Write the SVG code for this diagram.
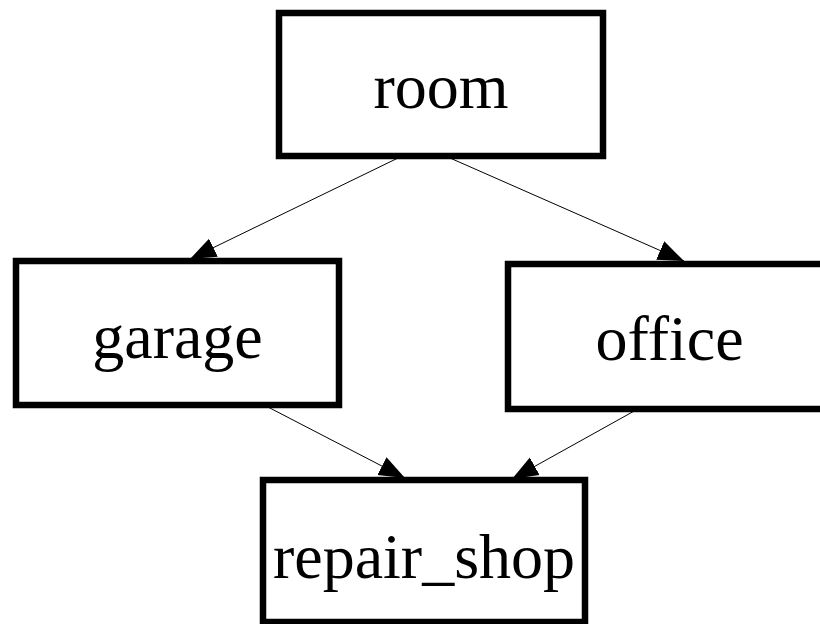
<svg xmlns="http://www.w3.org/2000/svg" width="820" height="624" viewBox="0 0 820 624">
<style>
.box{fill:#fff;stroke:#000;stroke-width:6.5}
.lbl{font-family:"Liberation Serif","Times New Roman",serif;font-size:64px;fill:#000;text-anchor:middle}
.edge{stroke:#000;stroke-width:1;fill:none;marker-end:url(#ah)}
</style>
<defs>
<marker id="ah" markerWidth="28" markerHeight="24" refX="26" refY="12" orient="auto" markerUnits="userSpaceOnUse">
<path d="M0,2 L26,12 L0,22 Z" fill="#000"/>
</marker>
</defs>
<rect width="820" height="624" fill="#fff"/>
<g id="edges">
<path class="edge" d="M398,158 L190,259"/>
<path class="edge" d="M450,158 L684,261"/>
<path class="edge" d="M266,406 L405,478"/>
<path class="edge" d="M636,410 L512,479"/>
</g>
<g id="room"><rect class="box" x="279" y="13" width="324" height="143"/><text class="lbl" x="441" y="108">room</text></g>
<g id="garage"><rect class="box" x="16" y="261" width="323" height="144"/><text class="lbl" x="177.5" y="358">garage</text></g>
<g id="office"><rect class="box" x="508" y="264" width="323" height="145"/><text class="lbl" x="669.5" y="360">office</text></g>
<g id="repair_shop"><rect class="box" x="263" y="480" width="322" height="142"/><text class="lbl" x="424" y="578">repair_shop</text></g>
</svg>
